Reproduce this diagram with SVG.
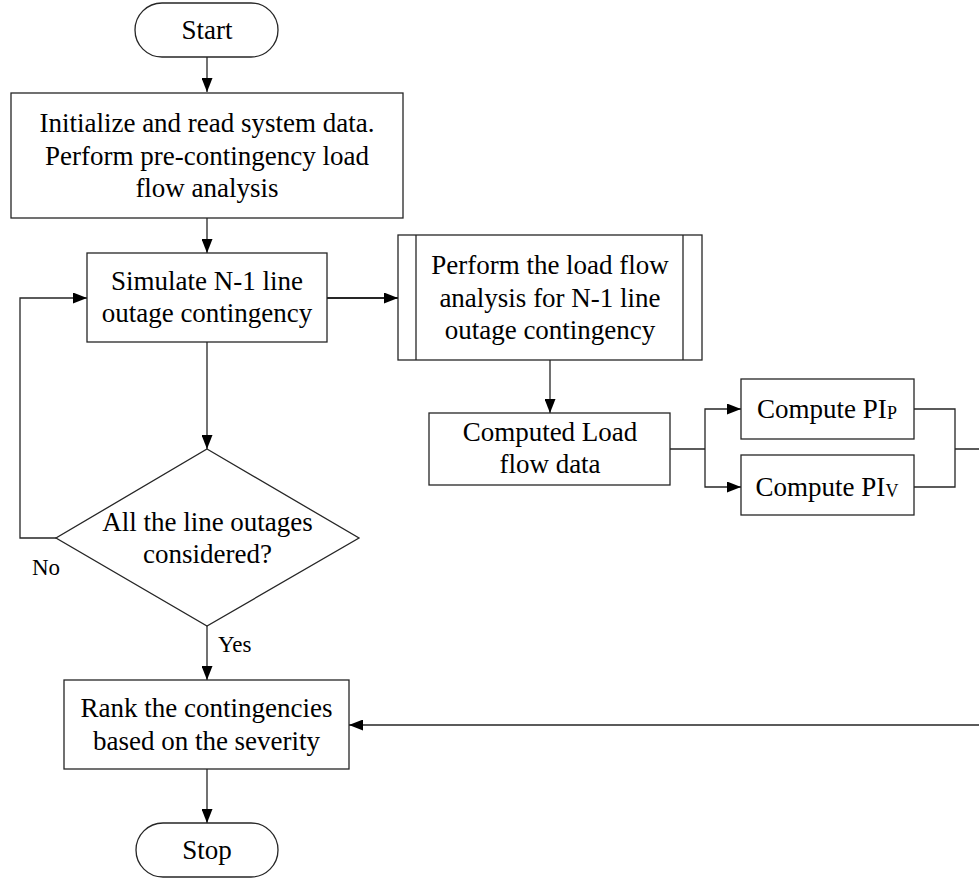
<svg xmlns="http://www.w3.org/2000/svg" width="979" height="878" viewBox="0 0 979 878">
  <style>
    .shape { fill: #ffffff; stroke: #262626; stroke-width: 1.3; }
    .edge { fill: none; stroke: #262626; stroke-width: 1.3; }
    text { font-family: 'Liberation Serif', Tinos, 'Times New Roman', Times, 'DejaVu Serif', serif; fill: #000000; }
    .label { font-size: 27px; text-anchor: middle; }
    .small { font-size: 23px; }
    .sub { font-size: 18px; }
  </style>
  <defs>
    <marker id="arrow" viewBox="0 0 14 11" refX="14" refY="5.5" markerWidth="14" markerHeight="11" markerUnits="userSpaceOnUse" orient="auto">
      <path d="M0,0 L14,5.5 L0,11 Z" fill="#000000"/>
    </marker>
  </defs>

  <rect width="979" height="878" fill="#ffffff"/>

  <!-- connectors -->
  <g id="connectors">
    <path class="edge" d="M207,57 L207,92" marker-end="url(#arrow)"/>
    <path class="edge" d="M207,218 L207,253" marker-end="url(#arrow)"/>
    <path class="edge" d="M327,298 L398,298" style="stroke-width:2" marker-end="url(#arrow)"/>
    <path class="edge" d="M207,342 L207,449" marker-end="url(#arrow)"/>
    <path class="edge" d="M56,538 L20,538 L20,298 L87,298" marker-end="url(#arrow)"/>
    <path class="edge" d="M207,626 L207,680" marker-end="url(#arrow)"/>
    <path class="edge" d="M207,769 L207,823" marker-end="url(#arrow)"/>
    <path class="edge" d="M550,360 L550,413" marker-end="url(#arrow)"/>
    <path class="edge" d="M670,449 L705,449"/>
    <path class="edge" d="M705,449 L705,409 L741,409" marker-end="url(#arrow)"/>
    <path class="edge" d="M705,449 L705,487 L741,487" marker-end="url(#arrow)"/>
    <path class="edge" d="M914,409 L955,409 L955,487 L914,487"/>
    <path class="edge" d="M955,449 L990,449 L990,725 L349,725" marker-end="url(#arrow)"/>
  </g>

  <g id="start">
    <rect class="shape" x="135" y="3" width="143" height="54" rx="27" ry="27"/>
    <text class="label" x="207" y="39">Start</text>
  </g>

  <g id="init">
    <rect class="shape" x="11" y="93" width="392" height="125"/>
    <text class="label" x="207" y="132">Initialize and read system data.</text>
    <text class="label" x="207" y="164.5">Perform pre-contingency load</text>
    <text class="label" x="207" y="197">flow analysis</text>
  </g>

  <g id="simulate">
    <rect class="shape" x="87" y="253" width="240" height="89"/>
    <text class="label" x="207" y="290">Simulate N-1 line</text>
    <text class="label" x="207" y="322">outage contingency</text>
  </g>

  <g id="loadflow">
    <rect class="shape" x="398" y="235" width="304" height="125"/>
    <line class="edge" x1="416" y1="235" x2="416" y2="360"/>
    <line class="edge" x1="683" y1="235" x2="683" y2="360"/>
    <text class="label" x="550" y="274">Perform the load flow</text>
    <text class="label" x="550" y="306.5">analysis for N-1 line</text>
    <text class="label" x="550" y="339">outage contingency</text>
  </g>

  <g id="computed">
    <rect class="shape" x="429" y="413" width="241" height="72"/>
    <text class="label" x="550" y="441">Computed Load</text>
    <text class="label" x="550" y="473">flow data</text>
  </g>

  <g id="pip">
    <rect class="shape" x="741" y="379" width="173" height="60"/>
    <text class="label" x="827" y="418">Compute PI<tspan class="sub" dy="1">P</tspan></text>
  </g>

  <g id="piv">
    <rect class="shape" x="741" y="455" width="173" height="60"/>
    <text class="label" x="827" y="496">Compute PI<tspan class="sub" dy="1">V</tspan></text>
  </g>

  <g id="decision">
    <polygon class="shape" points="207,449 359,538 207,626 56,538"/>
    <text class="label" x="207.5" y="531">All the line outages</text>
    <text class="label" x="207.5" y="563">considered?</text>
    <text class="small" x="32" y="575">No</text>
    <text class="small" x="218" y="652">Yes</text>
  </g>

  <g id="rank">
    <rect class="shape" x="64" y="680" width="285" height="89"/>
    <text class="label" x="206.5" y="717">Rank the contingencies</text>
    <text class="label" x="206.5" y="750">based on the severity</text>
  </g>

  <g id="stop">
    <rect class="shape" x="136" y="823" width="142" height="54" rx="27" ry="27"/>
    <text class="label" x="207" y="859">Stop</text>
  </g>
</svg>
